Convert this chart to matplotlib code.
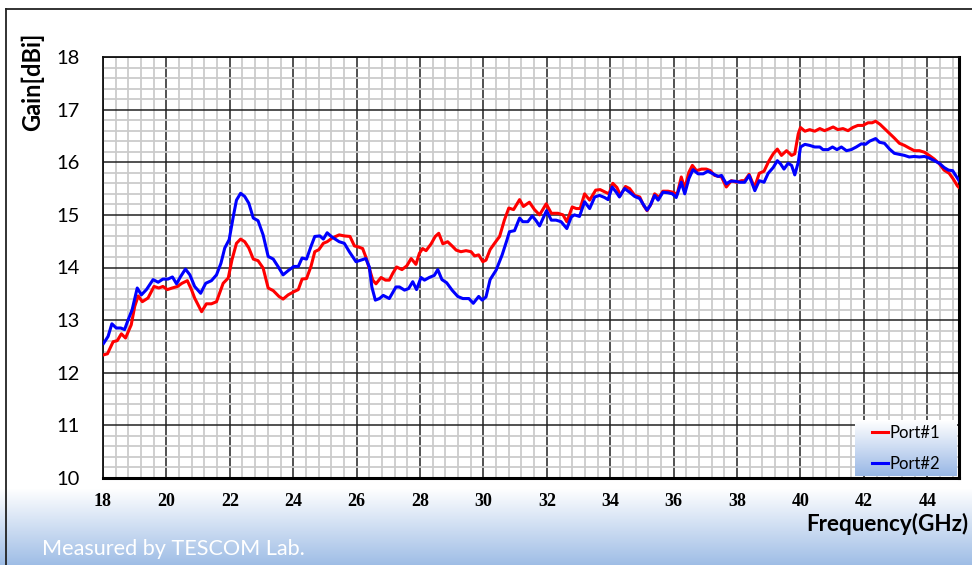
"""Antenna gain vs frequency for the two ports (TESCOM measurement)."""
import numpy as np
import matplotlib
matplotlib.use('Agg')
import matplotlib.pyplot as plt
from matplotlib.ticker import MultipleLocator

# Port#1 (red) - frequency in GHz, gain in dBi
port1_freq = [18.02, 18.14, 18.32, 18.45, 18.58, 18.71, 18.89, 19.00, 19.11, 19.24,
              19.42, 19.61, 19.76, 19.89, 20.03, 20.18, 20.35, 20.49, 20.66, 20.79,
              20.89, 21.00, 21.11, 21.26, 21.42, 21.58, 21.79, 21.95, 22.07, 22.21,
              22.34, 22.47, 22.60, 22.74, 22.89, 23.05, 23.21, 23.37, 23.55, 23.68,
              23.84, 24.02, 24.16, 24.28, 24.42, 24.56, 24.68, 24.81, 24.95, 25.07,
              25.23, 25.45, 25.61, 25.79, 25.93, 26.06, 26.19, 26.29, 26.40, 26.51,
              26.61, 26.77, 26.91, 27.03, 27.14, 27.26, 27.43, 27.58, 27.72, 27.87,
              27.98, 28.08, 28.19, 28.35, 28.48, 28.59, 28.72, 28.87, 29.01, 29.14,
              29.29, 29.45, 29.61, 29.72, 29.85, 29.98, 30.08, 30.21, 30.35, 30.51,
              30.66, 30.80, 30.95, 31.14, 31.26, 31.45, 31.61, 31.77, 31.98, 32.14,
              32.35, 32.51, 32.63, 32.80, 32.93, 33.05, 33.19, 33.35, 33.54, 33.68,
              33.85, 33.96, 34.08, 34.21, 34.32, 34.48, 34.61, 34.77, 34.93, 35.05,
              35.16, 35.29, 35.40, 35.54, 35.66, 35.82, 35.98, 36.11, 36.24, 36.35,
              36.48, 36.59, 36.72, 36.88, 37.03, 37.16, 37.29, 37.51, 37.66, 37.82,
              37.98, 38.14, 38.24, 38.38, 38.55, 38.70, 38.85, 39.00, 39.14, 39.27,
              39.40, 39.56, 39.72, 39.82, 39.93, 40.00, 40.14, 40.29, 40.45, 40.61,
              40.76, 40.92, 41.03, 41.18, 41.34, 41.50, 41.65, 41.81, 41.97, 42.13,
              42.26, 42.37, 42.51, 42.65, 42.81, 42.96, 43.12, 43.28, 43.43, 43.59,
              43.75, 43.91, 44.06, 44.22, 44.38, 44.53, 44.69, 44.82, 44.95, 45.00]
port1_gain = [12.34, 12.36, 12.59, 12.61, 12.74, 12.66, 12.91, 13.26, 13.46, 13.35,
              13.42, 13.64, 13.61, 13.64, 13.58, 13.61, 13.64, 13.70, 13.75, 13.58,
              13.42, 13.29, 13.16, 13.31, 13.31, 13.35, 13.70, 13.80, 14.15, 14.46,
              14.54, 14.49, 14.37, 14.16, 14.13, 13.99, 13.61, 13.56, 13.45, 13.40,
              13.48, 13.54, 13.58, 13.78, 13.79, 14.02, 14.30, 14.34, 14.46, 14.49,
              14.56, 14.62, 14.60, 14.59, 14.41, 14.39, 14.36, 14.20, 13.98, 13.76,
              13.69, 13.81, 13.76, 13.76, 13.89, 14.01, 13.96, 14.03, 14.17, 14.06,
              14.27, 14.36, 14.32, 14.45, 14.59, 14.65, 14.45, 14.49, 14.41, 14.33,
              14.30, 14.32, 14.30, 14.22, 14.24, 14.11, 14.14, 14.34, 14.46, 14.59,
              14.90, 15.13, 15.10, 15.29, 15.16, 15.24, 15.10, 15.00, 15.21, 15.03,
              15.03, 15.00, 14.87, 15.15, 15.12, 15.12, 15.40, 15.28, 15.47, 15.48,
              15.43, 15.40, 15.60, 15.52, 15.37, 15.54, 15.50, 15.37, 15.34, 15.18,
              15.08, 15.21, 15.40, 15.33, 15.45, 15.45, 15.43, 15.39, 15.72, 15.50,
              15.81, 15.94, 15.84, 15.87, 15.87, 15.84, 15.75, 15.72, 15.53, 15.65,
              15.62, 15.65, 15.65, 15.77, 15.52, 15.79, 15.83, 16.02, 16.16, 16.25,
              16.13, 16.22, 16.13, 16.16, 16.54, 16.66, 16.59, 16.62, 16.59, 16.64,
              16.60, 16.64, 16.67, 16.62, 16.64, 16.60, 16.66, 16.70, 16.70, 16.75,
              16.75, 16.78, 16.72, 16.64, 16.55, 16.46, 16.36, 16.32, 16.27, 16.22,
              16.22, 16.19, 16.13, 16.06, 15.97, 15.85, 15.79, 15.68, 15.55, 15.52]

# Port#2 (blue)
port2_freq = [18.02, 18.16, 18.28, 18.42, 18.56, 18.68, 18.79, 18.92, 19.08, 19.21,
              19.37, 19.58, 19.74, 19.89, 20.05, 20.19, 20.32, 20.45, 20.60, 20.74,
              20.89, 21.08, 21.24, 21.42, 21.58, 21.72, 21.84, 21.98, 22.11, 22.21,
              22.34, 22.47, 22.60, 22.74, 22.89, 23.05, 23.21, 23.37, 23.53, 23.68,
              23.84, 24.02, 24.16, 24.28, 24.42, 24.56, 24.68, 24.84, 24.95, 25.07,
              25.22, 25.45, 25.61, 25.77, 25.98, 26.14, 26.29, 26.40, 26.48, 26.59,
              26.72, 26.84, 27.03, 27.24, 27.35, 27.51, 27.64, 27.77, 27.89, 28.03,
              28.14, 28.29, 28.45, 28.56, 28.69, 28.84, 29.01, 29.19, 29.35, 29.54,
              29.68, 29.85, 29.96, 30.08, 30.21, 30.40, 30.59, 30.74, 30.82, 30.98,
              31.14, 31.24, 31.40, 31.54, 31.66, 31.77, 31.99, 32.14, 32.29, 32.45,
              32.63, 32.77, 32.87, 33.03, 33.19, 33.35, 33.51, 33.66, 33.82, 33.93,
              34.06, 34.19, 34.29, 34.45, 34.61, 34.77, 34.93, 35.03, 35.16, 35.26,
              35.40, 35.51, 35.66, 35.82, 35.96, 36.08, 36.24, 36.35, 36.48, 36.61,
              36.77, 36.93, 37.08, 37.24, 37.40, 37.51, 37.66, 37.79, 37.93, 38.08,
              38.24, 38.38, 38.56, 38.70, 38.85, 38.98, 39.14, 39.27, 39.37, 39.48,
              39.61, 39.72, 39.82, 39.93, 40.00, 40.14, 40.29, 40.45, 40.61, 40.71,
              40.87, 41.01, 41.15, 41.29, 41.45, 41.60, 41.76, 41.92, 42.05, 42.18,
              42.37, 42.49, 42.65, 42.81, 42.96, 43.12, 43.28, 43.43, 43.59, 43.75,
              43.91, 44.06, 44.22, 44.38, 44.53, 44.67, 44.80, 44.95, 45.00]
port2_gain = [12.56, 12.69, 12.93, 12.85, 12.85, 12.82, 13.00, 13.20, 13.61, 13.48,
              13.58, 13.77, 13.72, 13.78, 13.78, 13.82, 13.69, 13.83, 13.97, 13.86,
              13.64, 13.51, 13.70, 13.75, 13.86, 14.08, 14.37, 14.53, 14.97, 15.28,
              15.41, 15.35, 15.22, 14.94, 14.89, 14.62, 14.21, 14.16, 14.01, 13.86,
              13.94, 14.02, 14.02, 14.18, 14.16, 14.40, 14.59, 14.60, 14.54, 14.66,
              14.58, 14.49, 14.46, 14.30, 14.11, 14.14, 14.17, 14.01, 13.63, 13.38,
              13.41, 13.47, 13.41, 13.63, 13.63, 13.57, 13.60, 13.73, 13.58, 13.81,
              13.76, 13.81, 13.85, 13.96, 13.77, 13.71, 13.57, 13.45, 13.41, 13.41,
              13.32, 13.45, 13.38, 13.44, 13.77, 13.95, 14.24, 14.52, 14.68, 14.70,
              14.94, 14.87, 14.87, 14.98, 14.89, 14.79, 15.08, 14.90, 14.90, 14.87,
              14.74, 14.96, 15.00, 14.97, 15.25, 15.12, 15.34, 15.37, 15.33, 15.29,
              15.53, 15.43, 15.34, 15.50, 15.43, 15.35, 15.31, 15.21, 15.09, 15.18,
              15.37, 15.28, 15.43, 15.42, 15.40, 15.33, 15.62, 15.40, 15.69, 15.86,
              15.78, 15.78, 15.83, 15.78, 15.73, 15.75, 15.59, 15.64, 15.64, 15.62,
              15.62, 15.75, 15.46, 15.65, 15.62, 15.79, 15.90, 16.03, 15.97, 15.87,
              15.98, 15.94, 15.76, 16.00, 16.29, 16.34, 16.32, 16.29, 16.29, 16.24,
              16.24, 16.29, 16.24, 16.29, 16.22, 16.24, 16.29, 16.35, 16.34, 16.40,
              16.45, 16.38, 16.36, 16.25, 16.17, 16.15, 16.13, 16.10, 16.11, 16.10,
              16.11, 16.08, 16.03, 15.98, 15.90, 15.85, 15.84, 15.70, 15.65]

x_ticks = [18, 20, 22, 24, 26, 28, 30, 32, 34, 36, 38, 40, 42, 44]
y_ticks = [10, 11, 12, 13, 14, 15, 16, 17, 18]

W, H = 972, 565


def fx(px):
    return px / W


def fy(py):
    return 1 - py / H


fig = plt.figure(figsize=(W / 100, H / 100), dpi=100)

# background: white fading to light blue at the bottom
bg = fig.add_axes([0, 0, 1, 1], zorder=-10)
grad = np.ones((H, 1, 3))
start = 488
t = np.clip((np.arange(H) - start) / (H - start), 0, 1)
blue = np.array([0.62, 0.74, 0.90])
grad[:, 0, :] = (1 - t)[:, None] * np.array([1.0, 1.0, 1.0]) + t[:, None] * blue
bg.imshow(grad, aspect='auto', extent=[0, 1, 0, 1], origin='upper')
bg.plot([6 / W, 6 / W], [0, fy(9)], color='#222222', lw=1.3)
bg.plot([6 / W, 1], [fy(9), fy(9)], color='#222222', lw=1.3)
bg.set_xlim(0, 1)
bg.set_ylim(0, 1)
bg.axis('off')

ax = fig.add_axes([fx(103), fy(478), fx(959) - fx(103), fy(57) - fy(478)])
ax.set_facecolor('white')
l1, = ax.plot(port1_freq, port1_gain, color='#ff0000', lw=2.2, label='Port#1',
              zorder=3, solid_joinstyle='round')
l2, = ax.plot(port2_freq, port2_gain, color='#0000ff', lw=2.2, label='Port#2',
              zorder=4, solid_joinstyle='round')

ax.set_xlim(18, 45)
ax.set_ylim(10, 18)
ax.set_xticks(x_ticks)
ax.set_yticks(y_ticks)
ax.xaxis.set_minor_locator(MultipleLocator(0.4))
ax.yaxis.set_minor_locator(MultipleLocator(0.2))
ax.grid(which='minor', color='#cbcbcb', lw=1.3)
ax.grid(which='major', color='#222222', lw=1.1)
ax.set_axisbelow(True)
ax.tick_params(which='both', length=0)
ax.tick_params(axis='x', pad=11)
ax.tick_params(axis='y', pad=17)
for lab in ax.get_xticklabels():
    lab.set_fontfamily('Liberation Serif')
    lab.set_fontweight('bold')
    lab.set_fontsize(13)
for lab in ax.get_yticklabels():
    lab.set_fontfamily('Lato')
    lab.set_fontsize(14.5)
for side in ['left', 'top']:
    ax.spines[side].set_linewidth(1.3)
    ax.spines[side].set_color('#111111')
for side in ['right', 'bottom']:
    ax.spines[side].set_linewidth(2.2)
    ax.spines[side].set_color('#000000')

fig.text(fx(32), fy(82), 'Gain[dBi]', rotation=90, ha='center', va='center',
         fontsize=17, fontweight='bold', family='Lato')
fig.text(fx(968), fy(524), 'Frequency(GHz)', ha='right', va='center',
         fontsize=16.2, fontweight='bold', family='Lato')
fig.text(fx(42), fy(549), 'Measured by TESCOM Lab.', ha='left', va='center',
         fontsize=15.6, color='white', family='Lato')

# legend box with its own gradient
lax = fig.add_axes([fx(855), fy(476), fx(957) - fx(855), fy(420) - fy(476)], zorder=5)
lg = np.ones((50, 1, 3))
s = np.linspace(0, 1, 50)
lg[:, 0, :] = (1 - s)[:, None] * np.array([1.0, 1.0, 1.0]) + s[:, None] * np.array([0.6, 0.72, 0.9])
lax.imshow(lg, aspect='auto', extent=[0, 1, 0, 1], origin='upper')
lax.set_xlim(0, 1)
lax.set_ylim(0, 1)
lax.axis('off')
lax.legend(handles=[l1, l2], loc='center', frameon=False, handlelength=1.0,
           handletextpad=0.1, labelspacing=0.9, prop={'family': 'Lato', 'size': 12})

fig.savefig('out.png', dpi=100)
